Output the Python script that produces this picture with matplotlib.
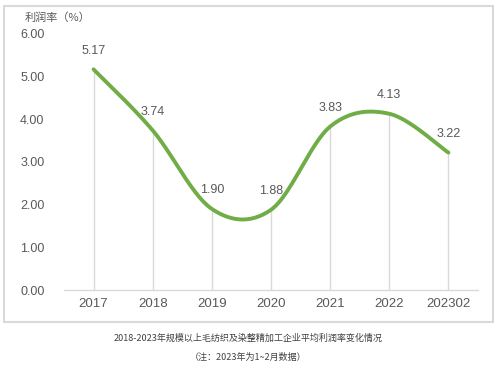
import numpy as np
import matplotlib.pyplot as plt
from matplotlib.patches import Rectangle

plt.rcParams['font.family'] = ['Liberation Sans', 'Noto Sans CJK SC', 'DejaVu Sans']

# data
years = ['2017', '2018', '2019', '2020', '2021', '2022', '202302']
rate = [5.17, 3.74, 1.90, 1.88, 3.83, 4.13, 3.22]
yticks = [0, 1, 2, 3, 4, 5, 6]

GREEN = '#70AD47'
GREY = '#595959'
LIGHT = '#d9d9d9'


def smooth(x, y, n=40):
    # excel-like smoothed line (cubic bezier, catmull-rom control points)
    x = np.asarray(x, float)
    y = np.asarray(y, float)
    px = np.concatenate([[x[0]], x, [x[-1]]])
    py = np.concatenate([[y[0]], y, [y[-1]]])
    xs, ys = [], []
    t = np.linspace(0, 1, n)
    for i in range(len(x) - 1):
        p0 = np.array([px[i + 1], py[i + 1]])
        p3 = np.array([px[i + 2], py[i + 2]])
        c1 = p0 + (np.array([px[i + 2], py[i + 2]]) - np.array([px[i], py[i]])) / 6
        c2 = p3 - (np.array([px[i + 3], py[i + 3]]) - np.array([px[i + 1], py[i + 1]])) / 6
        b = ((1 - t) ** 3)[:, None] * p0 + (3 * (1 - t) ** 2 * t)[:, None] * c1 \
            + (3 * (1 - t) * t ** 2)[:, None] * c2 + (t ** 3)[:, None] * p3
        xs.extend(b[:, 0])
        ys.extend(b[:, 1])
    return np.array(xs), np.array(ys)


fig = plt.figure(figsize=(5, 3.69), dpi=100)
fig.patches.append(Rectangle((4 / 500, 1 - 322 / 369), 489 / 500, 316 / 369,
                             transform=fig.transFigure, fill=False,
                             edgecolor=LIGHT, linewidth=1.5))

ax = fig.add_axes([0.128, 0.214, 0.828, 0.694])
x = np.arange(len(years))

ax.vlines(x, 0, rate, colors=LIGHT, linewidth=1, zorder=1)
sx, sy = smooth(x, rate)
ax.plot(sx, sy, color=GREEN, linewidth=2.8, solid_capstyle='round', zorder=3)

for xi, v in zip(x, rate):
    ax.annotate(f'{v:.2f}', (xi, v), xytext=(0, 9), textcoords='offset points',
                ha='center', va='bottom', fontsize=9, color=GREY)

ax.set_xlim(-0.5, len(years) - 0.5)
ax.set_ylim(0, 6)
ax.set_xticks(x)
ax.set_xticklabels(years, fontsize=9.5, color=GREY)
ax.set_yticks(yticks)
ax.set_yticklabels([f'{v:.2f}' for v in yticks], fontsize=9, color=GREY)
ax.tick_params(length=0)
ax.tick_params(axis='y', pad=14)
ax.tick_params(axis='x', pad=6)
for s in ['top', 'right', 'left']:
    ax.spines[s].set_visible(False)
ax.spines['bottom'].set_color(LIGHT)
ax.spines['bottom'].set_linewidth(1)

fig.text(25 / 500, 1 - 18 / 369, '利润率（%）', fontsize=8, color=GREY,
         ha='left', va='center', family=['Noto Sans CJK SC'])
fig.text(0.496, 1 - 338 / 369, '2018-2023年规模以上毛纺织及染整精加工企业平均利润率变化情况',
         fontsize=6.5, color='#404040', ha='center', va='center', family=['Noto Sans CJK SC'])
fig.text(0.496, 1 - 357 / 369, '（注：2023年为1~2月数据）',
         fontsize=6.5, color='#404040', ha='center', va='center', family=['Noto Sans CJK SC'])

fig.savefig('out.png', dpi=100)
